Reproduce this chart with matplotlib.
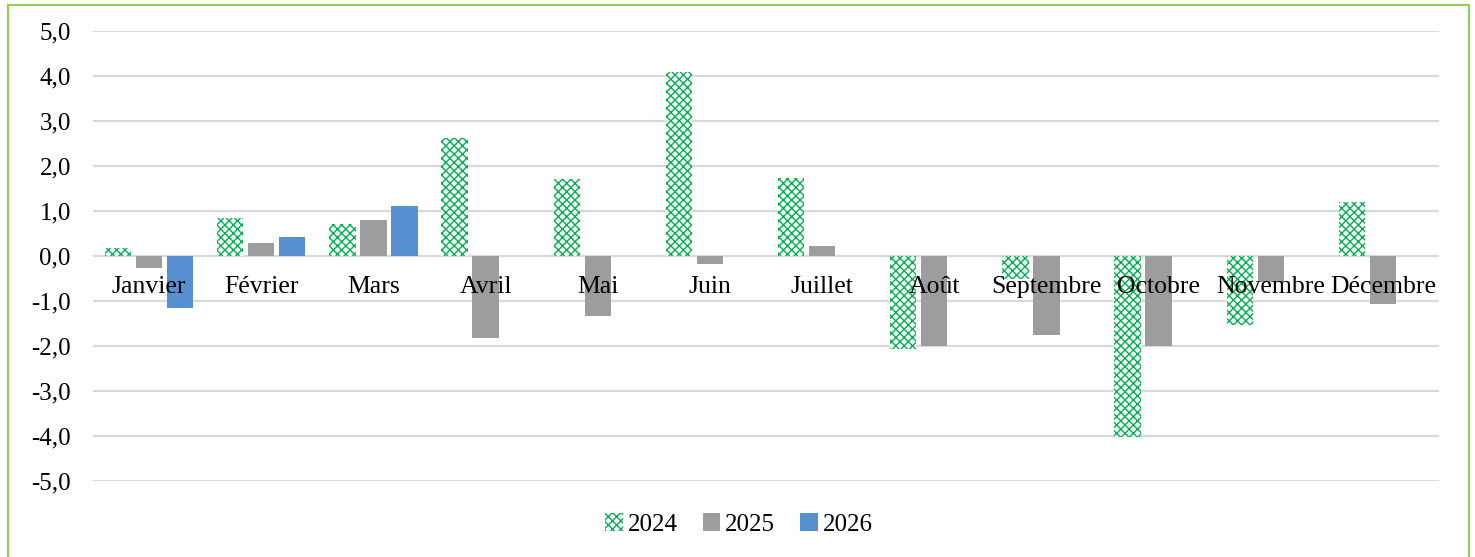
import matplotlib
matplotlib.use("Agg")
import matplotlib.pyplot as plt
import matplotlib.transforms as mtransforms
from matplotlib.patches import Rectangle
import numpy as np

months = ["Janvier", "Février", "Mars", "Avril", "Mai", "Juin", "Juillet",
          "Août", "Septembre", "Octobre", "Novembre", "Décembre"]
s2024 = [0.18, 0.84, 0.71, 2.62, 1.71, 4.09, 1.73, -2.07, -0.51, -4.02, -1.53, 1.20]
s2025 = [-0.27, 0.29, 0.80, -1.82, -1.33, -0.18, 0.22, -2.00, -1.76, -2.00, -0.58, -1.07]
s2026 = [-1.16, 0.42, 1.11, np.nan, np.nan, np.nan, np.nan, np.nan, np.nan, np.nan, np.nan, np.nan]
yticks = [-5, -4, -3, -2, -1, 0, 1, 2, 3, 4, 5]
ytick_labels = ["-5,0", "-4,0", "-3,0", "-2,0", "-1,0", "0,0", "1,0", "2,0", "3,0", "4,0", "5,0"]
series_names = ["2024", "2025", "2026"]

plt.rcParams['font.family'] = ['Liberation Serif', 'DejaVu Serif']
plt.rcParams['hatch.color'] = '#00B050'
plt.rcParams['hatch.linewidth'] = 1.0

fig = plt.figure(figsize=(14.75, 5.57), dpi=100)
ax = fig.add_axes([93/1475, (557-481)/557, (1439-93)/1475, 450/557])

x = np.arange(len(months))
w = 0.235
step = 0.277

ax.bar(x - step, s2024, w, facecolor='white', edgecolor='#00B050', hatch='xxxx',
       linewidth=0, label=series_names[0], zorder=3)
ax.bar(x, s2025, w, color='#9D9D9D', label=series_names[1], zorder=3)
ax.bar(x + step, s2026, w, color='#5690D0', label=series_names[2], zorder=3)

ax.set_xlim(-0.5, len(months) - 0.5)
ax.set_ylim(-5, 5)
ax.set_yticks(yticks)
ax.set_yticklabels(ytick_labels)
ax.set_xticks([])
ax.grid(axis='y', color='#D9D9D9', linewidth=1.6, zorder=0)
ax.set_axisbelow(True)
for s in ax.spines.values():
    s.set_visible(False)
ax.tick_params(axis='y', length=0, pad=16, labelsize=18)

off = mtransforms.offset_copy(ax.transData, fig=fig, x=0, y=-31, units='dots')
for xi, m in zip(x, months):
    ax.text(xi, 0, m, transform=off, ha='center', va='center', fontsize=18.5,
            zorder=6, color='#000000')

ax.legend(loc='upper center', bbox_to_anchor=(0.48, -0.022), ncol=3, frameon=False,
          fontsize=18, handlelength=0.7, handleheight=0.7, handletextpad=0.2,
          columnspacing=1.0)

fig.patches.append(Rectangle((8/1475, -0.02), (1469-8)/1475, 1.02 - 5/557,
                             transform=fig.transFigure, fill=False,
                             edgecolor='#92D050', linewidth=1.5, clip_on=False))

fig.savefig("out.png", dpi=100, facecolor='white')
